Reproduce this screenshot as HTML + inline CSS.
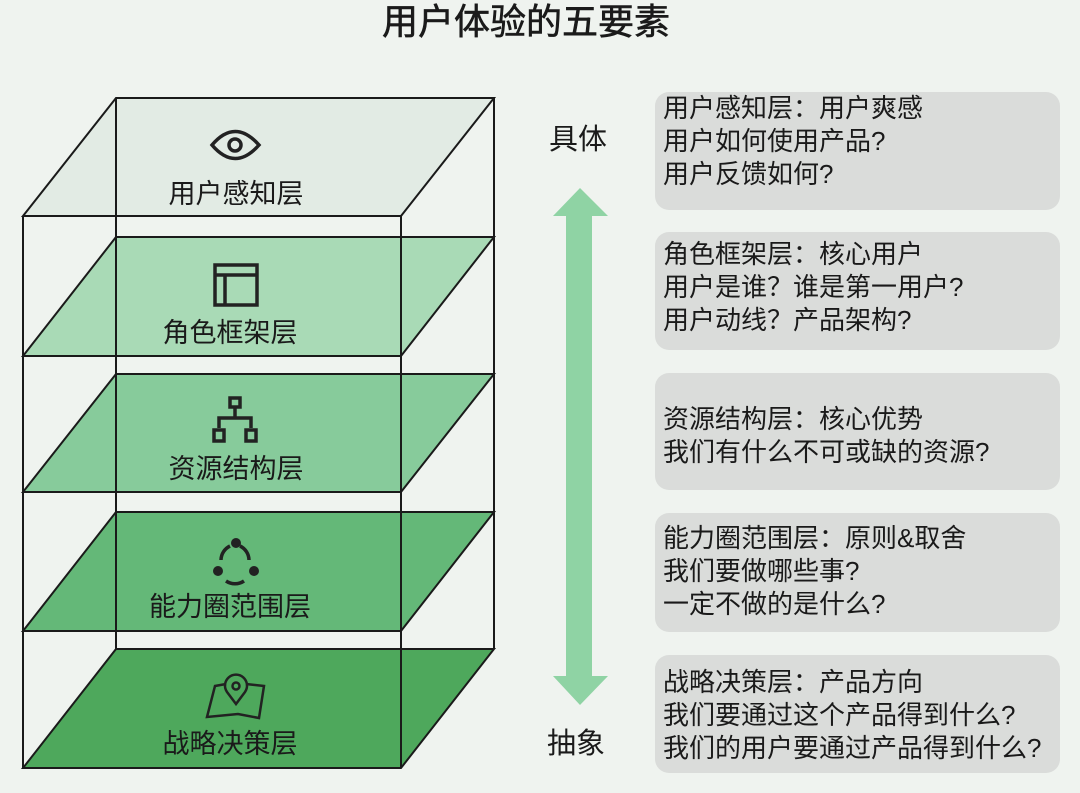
<!DOCTYPE html>
<html><head><meta charset="utf-8"><style>
html,body{margin:0;padding:0;background:#eff3ef;}
svg{display:block;}
text{font-family:"Liberation Sans","Noto Sans CJK SC",sans-serif;fill:#1a1a1a;}
</style></head><body>
<svg width="1080" height="793" viewBox="0 0 1080 793" xmlns="http://www.w3.org/2000/svg">
<rect width="1080" height="793" fill="#eff3ef"/>
<text x="526" y="34" font-size="36" text-anchor="middle" stroke="#1a1a1a" stroke-width="0.6">用户体验的五要素</text>

<polygon points="116,98 494,98 401,216 23,216" fill="#e2ebe4" stroke="#1a1a1a" stroke-width="2"/>
<polygon points="116,237 494,237 401,356 23,356" fill="#a9dab6" stroke="#1a1a1a" stroke-width="2"/>
<polygon points="116,374 494,374 401,492 23,492" fill="#87cb9b" stroke="#1a1a1a" stroke-width="2"/>
<polygon points="116,512 494,512 401,631 23,631" fill="#64b878" stroke="#1a1a1a" stroke-width="2"/>
<polygon points="116,649 494,649 401,768 23,768" fill="#4ea85c" stroke="#1a1a1a" stroke-width="2"/>
<g stroke="#1a1a1a" stroke-width="2" fill="none">
<line x1="116" y1="98" x2="116" y2="649"/>
<line x1="494" y1="98" x2="494" y2="649"/>
<line x1="23" y1="216" x2="23" y2="768"/>
<line x1="401" y1="216" x2="401" y2="768"/>
</g>

<g stroke="#222" stroke-width="3.5" fill="none">
<path d="M212,145 Q235,118 259,145 Q235,172 212,145 Z"/>
<circle cx="235" cy="145" r="6"/>
<rect x="215" y="265" width="42" height="40"/>
<line x1="215" y1="275" x2="257" y2="275"/>
<line x1="225" y1="275" x2="225" y2="305"/>
<rect x="230" y="398" width="10" height="9"/>
<line x1="235" y1="407" x2="235" y2="418"/>
<path d="M219,428 V418 H251 V428"/>
<rect x="214" y="430" width="10" height="11"/>
<rect x="246" y="430" width="10" height="11"/>
<path d="M221,560 A16,16 0 0 1 230,546"/>
<path d="M240,546 A16,16 0 0 1 249,560"/>
<path d="M226,581 A16,16 0 0 0 244,581" />
</g>
<g fill="#222">
<circle cx="236" cy="543" r="5"/>
<circle cx="218" cy="571" r="5"/>
<circle cx="254" cy="571" r="5"/>
</g>
<g stroke="#222" stroke-width="2.5" fill="none">
<path d="M226,684 L215,686 L207,717 L238,714 L259,718 L264,686 L246,684"/>
<path d="M236,704 L227,692 A11,11 0 1 1 245,692 Z"/>
<circle cx="236" cy="686" r="3.5"/>
</g>

<g font-size="27" text-anchor="middle">
<text x="236" y="203">用户感知层</text>
<text x="230" y="342">角色框架层</text>
<text x="236" y="478">资源结构层</text>
<text x="230" y="616">能力圈范围层</text>
<text x="230" y="753">战略决策层</text>
</g>

<polygon points="580,188 608,216 592,216 592,676 608,676 580,705 553,676 566,676 566,216 553,216" fill="#8fd3a4"/>
<text x="578" y="149" font-size="29" text-anchor="middle">具体</text>
<text x="576" y="753" font-size="29" text-anchor="middle">抽象</text>

<g fill="#dadcda">
<rect x="655" y="92" width="405" height="118" rx="14"/>
<rect x="655" y="232" width="405" height="118" rx="14"/>
<rect x="655" y="373" width="405" height="117" rx="14"/>
<rect x="655" y="513" width="405" height="119" rx="14"/>
<rect x="655" y="655" width="405" height="118" rx="14"/>
</g>
<g font-size="26">
<text x="663" y="117">用户感知层：用户爽感</text>
<text x="663" y="150">用户如何使用产品?</text>
<text x="663" y="183">用户反馈如何?</text>
<text x="663" y="263">角色框架层：核心用户</text>
<text x="663" y="296">用户是谁？谁是第一用户?</text>
<text x="663" y="329">用户动线？产品架构?</text>
<text x="663" y="428">资源结构层：核心优势</text>
<text x="663" y="461">我们有什么不可或缺的资源?</text>
<text x="663" y="547">能力圈范围层：原则&amp;取舍</text>
<text x="663" y="580">我们要做哪些事?</text>
<text x="663" y="613">一定不做的是什么?</text>
<text x="663" y="691">战略决策层：产品方向</text>
<text x="663" y="724">我们要通过这个产品得到什么?</text>
<text x="663" y="757">我们的用户要通过产品得到什么?</text>
</g>
</svg>
</body></html>
